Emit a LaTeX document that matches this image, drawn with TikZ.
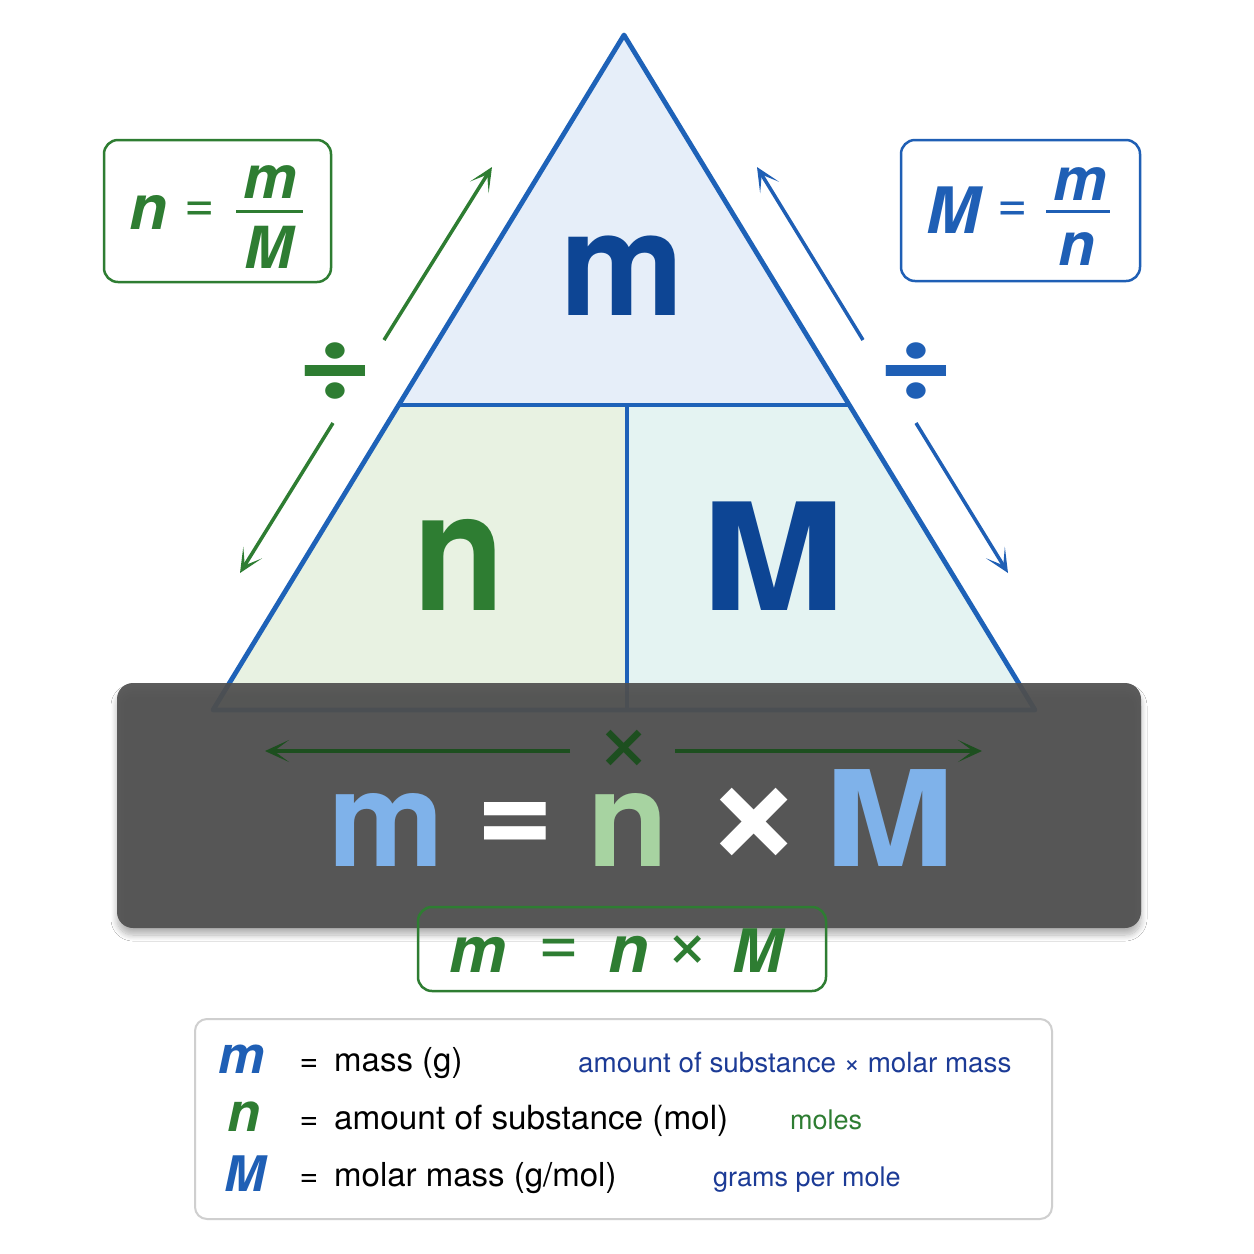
\documentclass[tikz,border=0pt]{standalone}
\usepackage{fontspec}
\setmainfont{TeX Gyre Heros}
\usepackage{graphicx}
\usetikzlibrary{arrows.meta,shadows.blur}
\definecolor{triblue}{HTML}{1E62B8}
\definecolor{darkblue}{HTML}{0D4594}
\definecolor{mygreen}{HTML}{2E7D32}
\definecolor{topfill}{HTML}{E6EEF9}
\definecolor{leftfill}{HTML}{E8F2E2}
\definecolor{rightfill}{HTML}{E4F3F2}
\definecolor{bandgrey}{HTML}{505050}
\definecolor{bandgreen}{HTML}{1D4F1F}
\definecolor{lightblue}{HTML}{7FB2EA}
\definecolor{lightgreen}{HTML}{A7D3A1}
\definecolor{boxblue}{HTML}{1F5FB5}
\definecolor{navy}{HTML}{1C3B96}
\definecolor{legendgrey}{HTML}{CFCFCF}
\newcommand{\fs}[1]{\fontsize{#1}{#1}\selectfont}
\tikzset{
  lt/.style={anchor=base, inner sep=0pt, font=\fs{133}\bfseries},
  glyph/.style={inner sep=0pt},
  arr/.style={line width=3.5pt, -{Stealth[length=24pt,width=22pt,inset=15pt]}},
  fbox/.style={line width=2.5pt, rounded corners=14pt},
  bi/.style={inner sep=0pt, anchor=base, font=\bfseries\itshape}
}
\begin{document}
\begin{tikzpicture}[x=1pt,y=-1pt]
\useasboundingbox (0,0) rectangle (1254,1254);
\fill[white] (0,0) rectangle (1254,1254);

% triangle
\coordinate (apex) at (624,35);
\coordinate (bl) at (213,710);
\coordinate (br) at (1035,710);
\coordinate (ml) at (399,405);
\coordinate (mr) at (849,405);
\coordinate (mt) at (627,405);
\coordinate (mb) at (627,710);
\fill[topfill] (apex) -- (mr) -- (ml) -- cycle;
\fill[leftfill] (ml) -- (mt) -- (mb) -- (bl) -- cycle;
\fill[rightfill] (mt) -- (mr) -- (br) -- (mb) -- cycle;
\draw[triblue, line width=4.8pt, line join=round] (apex) -- (br) -- (bl) -- cycle;
\draw[triblue, line width=4.8pt] (ml) -- (mr);
\draw[triblue, line width=4.2pt] (mt) -- (mb);

\node[glyph, anchor=base, text=darkblue, font=\fs{145}\bfseries] (tm) at (622,315) {\scalebox{0.96}[1]{m}};
\node[glyph, anchor=base, text=mygreen, font=\fs{166}\bfseries] (tn) at (459,610) {\scalebox{0.9}[1]{n}};
\node[glyph, anchor=base, text=darkblue, font=\fs{149}\bfseries] (tM) at (773,610) {\scalebox{1.16}[1]{M}};

% side arrows and division signs
\coordinate (gu1) at (384,340); \coordinate (gu2) at (492,167);
\coordinate (gd1) at (333,423); \coordinate (gd2) at (240,573);
\coordinate (bu1) at (863,340); \coordinate (bu2) at (757,167);
\coordinate (bd1) at (916,423); \coordinate (bd2) at (1008,573);
\draw[arr, mygreen] (gu1) -- (gu2);
\draw[arr, mygreen] (gd1) -- (gd2);
\draw[arr, boxblue] (bu1) -- (bu2);
\draw[arr, boxblue] (bd1) -- (bd2);
\node[glyph, text=mygreen, font=\fs{110}\bfseries] (divg) at (335,371) {\scalebox{1.18}[1]{÷}};
\node[glyph, text=boxblue, font=\fs{110}\bfseries] (divb) at (916,371) {\scalebox{1.18}[1]{÷}};

% top-left formula box
\draw[fbox, mygreen] (104,140) rectangle (331,282);
\node[bi, text=mygreen, font=\fs{62}\bfseries\itshape] (ln) at (148,229) {n};
\node[glyph, text=mygreen, font=\fs{52}] (leq) at (200,212) {=};
\node[bi, text=mygreen, font=\fs{60}\bfseries\itshape] (lm) at (270,198) {m};
\node[bi, text=mygreen, font=\fs{58}\bfseries\itshape] (lM) at (269,268) {M};
\draw[mygreen, line width=3pt] (236,211) -- (303,211);

% top-right formula box
\draw[fbox, boxblue] (901,140) rectangle (1140,281);
\node[bi, text=boxblue, font=\fs{64}\bfseries\itshape] (rM) at (953,233) {M};
\node[glyph, text=boxblue, font=\fs{52}] (req) at (1013,212) {=};
\node[bi, text=boxblue, font=\fs{60}\bfseries\itshape] (rm) at (1080,200) {m};
\node[bi, text=boxblue, font=\fs{60}\bfseries\itshape] (rn) at (1077,265) {n};
\draw[boxblue, line width=3pt] (1046,211) -- (1110,211);

% dark band
\fill[bandgrey, fill opacity=0.93, rounded corners=16pt,
  blur shadow={shadow xshift=0pt, shadow yshift=-7pt, shadow blur steps=10, shadow opacity=30, shadow blur radius=6pt}]
  (117,683) rectangle (1141,928);
\coordinate (la1) at (570,751); \coordinate (la2) at (265,751);
\coordinate (ra1) at (675,751); \coordinate (ra2) at (982,751);
\draw[arr, bandgreen] (la1) -- (la2);
\draw[arr, bandgreen] (ra1) -- (ra2);
\node[glyph, text=bandgreen, font=\fs{98}] (bx) at (624,751) {×};

\node[lt, text=lightblue] (bm) at (386,866) {\scalebox{0.98}[1]{m}};
\node[glyph, text=white, font=\fs{133}\bfseries] (beq) at (515,828) {=};
\node[lt, text=lightgreen] (bn) at (628,866) {n};
\node[glyph, text=white, font=\fs{170}\bfseries] (btimes) at (754,826) {×};
\node[lt, text=lightblue] (bM) at (890,866) {\scalebox{1.18}[1]{M}};

% bottom formula box
\draw[fbox, mygreen] (418,907) rectangle (826,991);
\node[bi, text=mygreen, font=\fs{64}\bfseries\itshape] (fm) at (478,972) {m};
\node[glyph, text=mygreen, font=\fs{70}] (feq) at (559,952) {=};
\node[bi, text=mygreen, font=\fs{66}\bfseries\itshape] (fn) at (629,972) {n};
\node[glyph, text=mygreen, font=\fs{76}] (fx) at (688,952) {×};
\node[bi, text=mygreen, font=\fs{60}\bfseries\itshape] (fM) at (757,972) {M};

% legend
\draw[legendgrey, line width=2pt, rounded corners=12pt] (195,1019) rectangle (1052,1219);
\node[bi, text=boxblue, font=\fs{52}\bfseries\itshape] (sm) at (242,1073) {m};
\node[bi, text=mygreen, font=\fs{54}\bfseries\itshape] (sn) at (244,1131) {n};
\node[bi, text=boxblue, font=\fs{49}\bfseries\itshape] (sM) at (245,1191) {M};
\foreach \y/\nm in {1071/e1,1129/e2,1186/e3}
  \node[glyph, anchor=base, font=\fs{32}] (\nm) at (309,\y) {=};
\node[glyph, anchor=base west, font=\fs{33}] (t1) at (334,1071) {mass (g)};
\node[glyph, anchor=base west, font=\fs{33.3}] (t2) at (334,1129) {amount of substance (mol)};
\node[glyph, anchor=base west, font=\fs{33}] (t3) at (334,1186) {molar mass (g/mol)};
\node[glyph, anchor=base west, text=navy, font=\fs{27.8}] (n1) at (578,1072) {amount of substance × molar mass};
\node[glyph, anchor=base west, text=mygreen, font=\fs{27}] (n2) at (790,1129) {moles};
\node[glyph, anchor=base west, text=navy, font=\fs{27}] (n3) at (713,1186) {grams per mole};
\end{tikzpicture}
\end{document}
